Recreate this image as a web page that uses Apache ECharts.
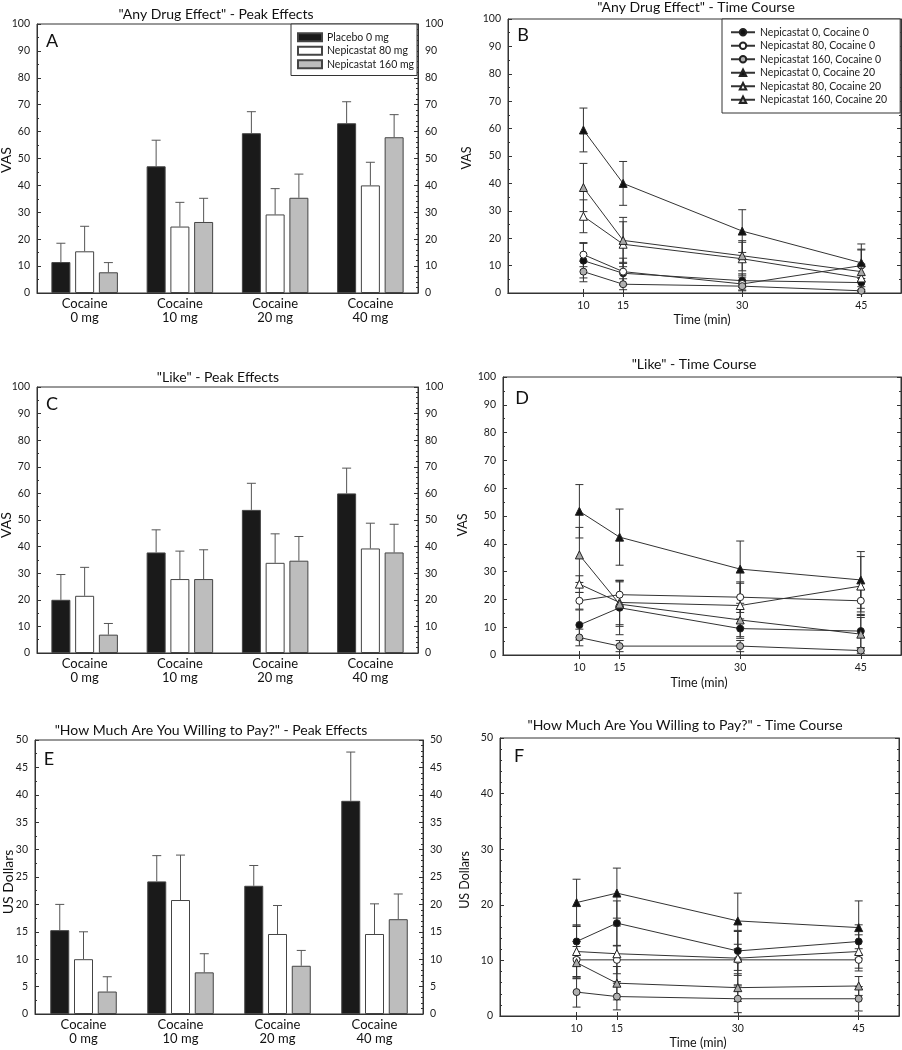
<!DOCTYPE html>
<html><head><meta charset="utf-8">
<script src="https://cdn.jsdelivr.net/npm/echarts@6/dist/echarts.min.js"></script>
<style>html,body{margin:0;padding:0;background:#fff}#c{width:902px;height:1050px}</style>
</head><body><div id="c"></div>
<script>
const FONT = 'Lato';
// ---------- DATA ----------
const barCategories = ['Cocaine\n0 mg', 'Cocaine\n10 mg', 'Cocaine\n20 mg', 'Cocaine\n40 mg'];
const barNames = ['Placebo 0 mg', 'Nepicastat 80 mg', 'Nepicastat 160 mg'];
// Panel A: "Any Drug Effect" - peak
const aPlacebo = [11.5, 47.1, 59.4, 63.1];
const aNep80 = [15.5, 24.7, 29.2, 40.0];
const aNep160 = [7.7, 26.4, 35.4, 57.9];
const aPlaceboErr = [7.0, 9.7, 8.0, 8.0];
const aNep80Err = [9.3, 9.0, 9.6, 8.6];
const aNep160Err = [3.6, 8.8, 8.8, 8.4];
// Panel C: "Like" - peak
const cPlacebo = [20.0, 37.8, 53.8, 60.0];
const cNep80 = [21.5, 27.8, 33.9, 39.3];
const cNep160 = [6.9, 27.8, 34.7, 37.8];
const cPlaceboErr = [9.5, 8.5, 10.0, 9.5];
const cNep80Err = [10.7, 10.5, 10.9, 9.5];
const cNep160Err = [4.2, 11.0, 9.1, 10.6];
// Panel E: "Willing to pay" - peak
const ePlacebo = [15.3, 24.2, 23.4, 38.9];
const eNep80 = [10.0, 20.8, 14.6, 14.6];
const eNep160 = [4.1, 7.6, 8.8, 17.3];
const ePlaceboErr = [4.7, 4.7, 3.7, 8.9];
const eNep80Err = [5.0, 8.2, 5.2, 5.5];
const eNep160Err = [2.7, 3.4, 2.8, 4.6];

const times = [10, 15, 30, 45];
const timeNames = ['Nepicastat 0, Cocaine 0', 'Nepicastat 80, Cocaine 0', 'Nepicastat 160, Cocaine 0',
  'Nepicastat 0, Cocaine 20', 'Nepicastat 80, Cocaine 20', 'Nepicastat 160, Cocaine 20'];
// Panel B: "Any Drug Effect" - time course (order as timeNames)
const bN0C0 = [11.8, 7.2, 4.5, 3.8];
const bN80C0 = [14.0, 7.8, 3.3, 10.0];
const bN160C0 = [7.8, 3.2, 2.5, 0.8];
const bN0C20 = [59.5, 40.0, 22.6, 11.0];
const bN80C20 = [28.0, 17.8, 12.5, 5.5];
const bN160C20 = [38.5, 19.2, 13.6, 7.8];
const bN0C0Err = [6.3, 4.0, 2.5, 1.5];
const bN80C0Err = [4.4, 4.9, 2.5, 5.7];
const bN160C0Err = [3.7, 2.0, 1.4, 0.4];
const bN0C20Err = [8.0, 8.0, 7.8, 6.9];
const bN80C20Err = [6.0, 8.2, 6.0, 5.0];
const bN160C20Err = [8.8, 8.4, 5.5, 8.2];
// Panel D: "Like" - time course
const dN0C0 = [10.8, 17.0, 9.5, 8.6];
const dN80C0 = [19.5, 21.7, 20.8, 19.5];
const dN160C0 = [6.3, 3.2, 3.2, 1.6];
const dN0C20 = [51.7, 42.4, 30.9, 27.0];
const dN80C20 = [25.5, 18.9, 17.8, 24.8];
const dN160C20 = [36.0, 18.3, 12.6, 7.5];
const dN0C0Err = [5.4, 9.7, 3.5, 6.0];
const dN80C0Err = [3.0, 5.0, 5.5, 4.0];
const dN160C0Err = [3.0, 2.0, 2.0, 1.0];
const dN0C20Err = [9.6, 10.1, 10.1, 10.2];
const dN80C20Err = [3.0, 8.0, 8.0, 10.6];
const dN160C20Err = [9.9, 8.0, 6.0, 6.0];
// Panel F: "Willing to pay" - time course
const fN0C0 = [13.4, 16.7, 11.7, 13.4];
const fN80C0 = [10.1, 10.1, 10.1, 10.1];
const fN160C0 = [4.3, 3.5, 3.1, 3.1];
const fN0C20 = [20.4, 22.1, 17.1, 15.9];
const fN80C20 = [11.6, 11.2, 10.4, 11.6];
const fN160C20 = [9.6, 5.9, 5.1, 5.4];
const fN0C0Err = [3.0, 4.0, 3.5, 3.0];
const fN80C0Err = [3.3, 2.5, 2.8, 2.0];
const fN160C0Err = [2.7, 2.4, 2.5, 2.2];
const fN0C20Err = [4.2, 4.5, 5.0, 4.8];
const fN80C20Err = [4.5, 5.0, 5.0, 3.0];
const fN160C20Err = [2.9, 3.0, 2.5, 1.7];

const yTicks100 = [0, 100, 10];
const yTicks50 = [0, 50, 5];
const timeTicks = [10, 15, 30, 45];

// ---------- STYLE / LAYOUT ----------
const BAR_W = 19, BAR_GAP = 0.25, BAR_STEP = BAR_W * (1 + BAR_GAP);
const barFills = ['#1a1a1a', '#ffffff', '#bdbdbd'];
const timeStyles = [
  { symbol: 'circle', fill: '#111' }, { symbol: 'circle', fill: '#fff' }, { symbol: 'circle', fill: '#b0b0b0' },
  { symbol: 'triangle', fill: '#111' }, { symbol: 'triangle', fill: '#fff' }, { symbol: 'triangle', fill: '#a8a8a8' }];

const grids = [
  { left: 37, right: 484, top: 24, height: 269 },   // A
  { left: 508, right: 1, top: 19, height: 274 },    // B
  { left: 37, right: 484, top: 387, height: 266 },  // C
  { left: 503, right: 1, top: 377, height: 278 },   // D
  { left: 35, right: 479, top: 740, height: 274 },  // E
  { left: 500, right: 3, top: 738, height: 278 }    // F
].map(g => Object.assign({ show: true, borderColor: '#333', borderWidth: 1, containLabel: false }, g));

const labelStyle = { fontFamily: FONT, fontSize: 10.5, color: '#1a1a1a' };
const xAxes = [], yAxes = [], series = [];

function addBarPanel(g, ticks, vals, errs) {
  const xi = xAxes.length;
  xAxes.push({ type: 'category', gridIndex: g, data: barCategories,
    axisLine: { lineStyle: { color: '#333' } }, axisTick: { show: false },
    axisLabel: { fontFamily: FONT, fontSize: 13, color: '#111', lineHeight: 14, margin: 4 } });
  const yi = yAxes.length;
  [ 'left', 'right' ].forEach(pos => {
    yAxes.push({ type: 'value', gridIndex: g, position: pos, min: ticks[0], max: ticks[1], interval: ticks[2],
      axisLine: { show: true, lineStyle: { color: '#333' } },
      axisTick: { show: true, inside: true, length: 4, lineStyle: { color: '#333' } },
      minorTick: { show: true, splitNumber: pos === 'left' ? 2 : 5, length: 2, lineStyle: { color: '#333' } },
      splitLine: { show: false },
      axisLabel: Object.assign({ margin: 7 }, labelStyle) });
  });
  vals.forEach((v, k) => {
    series.push({ type: 'bar', name: barNames[k], xAxisIndex: xi, yAxisIndex: yi, data: v,
      barWidth: BAR_W, barGap: (BAR_GAP * 100) + '%',
      itemStyle: { color: barFills[k], borderColor: '#444', borderWidth: 1 }, z: 2 });
    series.push({ type: 'custom', xAxisIndex: xi, yAxisIndex: yi, z: 1,
      data: v.map((val, i) => [i, val, errs[k][i]]),
      renderItem: (params, api) => {
        const ci = api.value(0), y = api.value(1), e = api.value(2);
        const p0 = api.coord([ci, y]), p1 = api.coord([ci, y + e]);
        const x = p0[0] + (k - 1) * BAR_STEP;
        return { type: 'group', children: [
          { type: 'line', shape: { x1: x, y1: p0[1], x2: x, y2: p1[1] }, style: { stroke: '#555', lineWidth: 1 } },
          { type: 'line', shape: { x1: x - 4.5, y1: p1[1], x2: x + 4.5, y2: p1[1] }, style: { stroke: '#555', lineWidth: 1 } }
        ] };
      } });
  });
}

function addTimePanel(g, ticks, minorSplit, vals, errs) {
  const xi = xAxes.length;
  xAxes.push({ type: 'value', gridIndex: g, position: 'bottom', min: 0.5, max: 50,
    axisLine: { lineStyle: { color: '#333' } },
    axisTick: { show: true, inside: true, length: 4, customValues: timeTicks, lineStyle: { color: '#333' } },
    splitLine: { show: false },
    axisLabel: Object.assign({ margin: 7, customValues: timeTicks }, labelStyle) });
  xAxes.push({ type: 'value', gridIndex: g, position: 'top', min: 0.5, max: 50,
    axisLine: { lineStyle: { color: '#333' } },
    axisTick: { show: true, inside: true, length: 4, customValues: timeTicks, lineStyle: { color: '#333' } },
    splitLine: { show: false }, axisLabel: { show: false } });
  const yi = yAxes.length;
  ['left', 'right'].forEach(pos => {
    yAxes.push({ type: 'value', gridIndex: g, position: pos, min: ticks[0], max: ticks[1], interval: ticks[2],
      axisLine: { show: true, lineStyle: { color: '#333' } },
      axisTick: { show: true, inside: true, length: 4, lineStyle: { color: '#333' } },
      minorTick: { show: true, splitNumber: minorSplit, length: 2, lineStyle: { color: '#333' } },
      splitLine: { show: false },
      axisLabel: pos === 'left' ? Object.assign({ margin: 7 }, labelStyle) : { show: false } });
  });
  vals.forEach((v, k) => {
    series.push({ type: 'custom', xAxisIndex: xi, yAxisIndex: yi, z: 1, clip: true,
      data: v.map((val, i) => [times[i], val, errs[k][i]]),
      renderItem: (params, api) => {
        const t = api.value(0), y = api.value(1), e = api.value(2);
        const lo = y - e;
        const ph = api.coord([t, y + e]), pl = api.coord([t, Math.max(lo, 0)]);
        const x = ph[0];
        const ch = [
          { type: 'line', shape: { x1: x, y1: pl[1], x2: x, y2: ph[1] }, style: { stroke: '#333', lineWidth: 1 } },
          { type: 'line', shape: { x1: x - 4, y1: ph[1], x2: x + 4, y2: ph[1] }, style: { stroke: '#333', lineWidth: 1 } }];
        if (lo >= 0) ch.push({ type: 'line', shape: { x1: x - 4, y1: pl[1], x2: x + 4, y2: pl[1] }, style: { stroke: '#333', lineWidth: 1 } });
        return { type: 'group', children: ch };
      } });
    const st = timeStyles[k];
    series.push({ type: 'line', name: timeNames[k], xAxisIndex: xi, yAxisIndex: yi, z: 3,
      data: v.map((val, i) => [times[i], val]),
      symbol: st.symbol, symbolSize: st.symbol === 'circle' ? 7 : 8, showAllSymbol: true,
      itemStyle: { color: st.fill, borderColor: '#222', borderWidth: 1 },
      lineStyle: { color: '#333', width: 1 } });
  });
}

addBarPanel(0, yTicks100, [aPlacebo, aNep80, aNep160], [aPlaceboErr, aNep80Err, aNep160Err]);
addTimePanel(1, yTicks100, 2, [bN0C0, bN80C0, bN160C0, bN0C20, bN80C20, bN160C20],
  [bN0C0Err, bN80C0Err, bN160C0Err, bN0C20Err, bN80C20Err, bN160C20Err]);
addBarPanel(2, yTicks100, [cPlacebo, cNep80, cNep160], [cPlaceboErr, cNep80Err, cNep160Err]);
addTimePanel(3, yTicks100, 2, [dN0C0, dN80C0, dN160C0, dN0C20, dN80C20, dN160C20],
  [dN0C0Err, dN80C0Err, dN160C0Err, dN0C20Err, dN80C20Err, dN160C20Err]);
addBarPanel(4, yTicks50, [ePlacebo, eNep80, eNep160], [ePlaceboErr, eNep80Err, eNep160Err]);
addTimePanel(5, [0, 50, 10], 5, [fN0C0, fN80C0, fN160C0, fN0C20, fN80C20, fN160C20],
  [fN0C0Err, fN80C0Err, fN160C0Err, fN0C20Err, fN80C20Err, fN160C20Err]);

function txt(x, y, text, size, opts) {
  return Object.assign({ type: 'text', x: x, y: y, z: 10,
    style: { text: text, fontFamily: FONT, fontSize: size, fill: '#111', align: 'center', verticalAlign: 'middle' } }, opts || {});
}
const graphics = [
  txt(216, 14, '"Any Drug Effect" - Peak Effects', 14),
  txt(696, 7, '"Any Drug Effect" - Time Course', 14),
  txt(218, 377, '"Like" - Peak Effects', 14),
  txt(694, 364, '"Like" - Time Course', 14),
  txt(211, 730, '"How Much Are You Willing to Pay?" - Peak Effects', 14),
  txt(685, 725, '"How Much Are You Willing to Pay?" - Time Course', 14),
  txt(52, 41, 'A', 18), txt(523, 35, 'B', 18), txt(52, 404, 'C', 18),
  txt(522, 398, 'D', 18), txt(49, 759, 'E', 18), txt(519, 756, 'F', 18),
  txt(6, 160, 'VAS', 14, { rotation: Math.PI / 2 }),
  txt(6, 525, 'VAS', 14, { rotation: Math.PI / 2 }),
  txt(8, 882, 'US Dollars', 14, { rotation: Math.PI / 2 }),
  txt(467, 158, 'VAS', 12.5, { rotation: Math.PI / 2 }),
  txt(463, 525, 'VAS', 12.5, { rotation: Math.PI / 2 }),
  txt(465, 880, 'US Dollars', 12.5, { rotation: Math.PI / 2 }),
  txt(702, 320, 'Time (min)', 12.5), txt(699, 683, 'Time (min)', 12.5), txt(698, 1043, 'Time (min)', 12.5)
];

const option = {
  animation: false,
  backgroundColor: '#fff',
  grid: grids, xAxis: xAxes, yAxis: yAxes, series: series,
  legend: [
    { data: barNames, orient: 'vertical', left: 291, top: 24, itemWidth: 24, itemHeight: 8, itemGap: 1,
      padding: [7, 3, 5, 6], borderColor: '#333', borderWidth: 1, backgroundColor: '#fff', selectedMode: false,
      icon: 'rect', textStyle: { fontFamily: FONT, fontSize: 10.5, color: '#1a1a1a', lineHeight: 12.5 } },
    { data: timeNames, orient: 'vertical', left: 722, top: 19, itemWidth: 24, itemHeight: 8, itemGap: 1,
      padding: [7, 13, 7, 8], borderColor: '#333', borderWidth: 1, backgroundColor: '#fff', selectedMode: false,
      textStyle: { fontFamily: FONT, fontSize: 10.5, color: '#1a1a1a', lineHeight: 12.5 } }
  ],
  graphic: graphics
};
const chart = echarts.init(document.getElementById('c'), null, { renderer: 'canvas' });
chart.setOption(option);
</script></body></html>
